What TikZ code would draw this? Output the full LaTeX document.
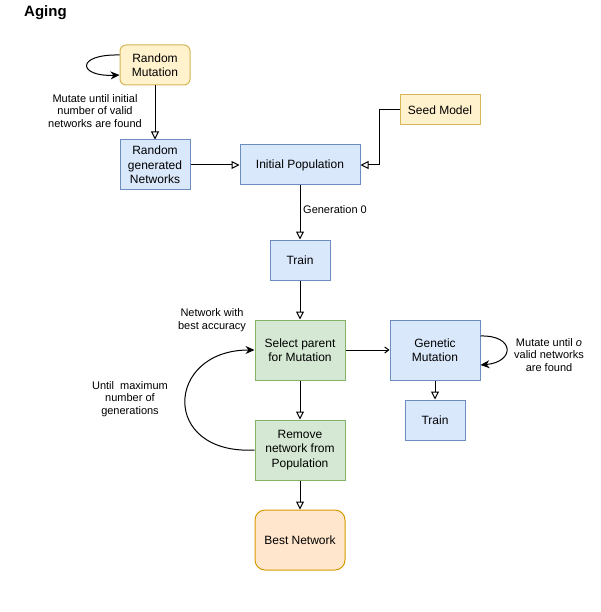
\documentclass[tikz,border=0pt]{standalone}
\usepackage{fontspec}
\setmainfont{Liberation Sans}
\usetikzlibrary{arrows.meta}
\definecolor{bluefill}{HTML}{DAE8FC}
\definecolor{bluedraw}{HTML}{6C8EBF}
\definecolor{yellowfill}{HTML}{FFF2CC}
\definecolor{yellowdraw}{HTML}{D6B656}
\definecolor{greenfill}{HTML}{D5E8D4}
\definecolor{greendraw}{HTML}{82B366}
\definecolor{orangefill}{HTML}{FFE6CC}
\definecolor{orangedraw}{HTML}{D79B00}
\begin{document}
\begin{tikzpicture}[x=1pt,y=-1pt,
  box/.style={draw, line width=1pt, inner sep=0pt, align=center, font=\fontsize{12}{14.5}\selectfont},
  bluebox/.style={box, fill=bluefill, draw=bluedraw},
  yellowbox/.style={box, fill=yellowfill, draw=yellowdraw},
  greenbox/.style={box, fill=greenfill, draw=greendraw},
  orangebox/.style={box, fill=orangefill, draw=orangedraw},
  lbl/.style={align=center, inner sep=0pt, font=\fontsize{11}{12.7}\selectfont},
  conn/.style={line width=1pt, -{Triangle[open,length=8pt,width=8pt]}},
  loop/.style={line width=1pt, -{Stealth[length=9pt,width=8pt]}},
  small/.style={line width=1pt, -{Straight Barb[length=4pt,width=6pt]}}
]
\useasboundingbox[fill=white] (0,0) rectangle (601,612);
\node[anchor=west, inner sep=0pt, font=\fontsize{15}{18}\selectfont\bfseries] (title) at (24,13) {Aging};

\node[yellowbox, rounded corners=6pt, minimum width=70pt, minimum height=40pt] (rm) at (155,65) {Random\\Mutation};
\node[bluebox, minimum width=70pt, minimum height=50pt] (rg) at (155,165) {Random\\generated\\Networks};
\node[bluebox, minimum width=120pt, minimum height=40pt] (ip) at (300,165) {Initial Population};
\node[yellowbox, minimum width=80pt, minimum height=30pt] (seed) at (440,110) {Seed Model};
\node[bluebox, minimum width=60pt, minimum height=40pt] (tr1) at (300,260) {Train};
\node[greenbox, minimum width=90pt, minimum height=60pt] (sel) at (300,350) {Select parent\\for Mutation};
\node[greenbox, minimum width=90pt, minimum height=60pt] (rem) at (300,450) {Remove\\network from\\Population};
\node[orangebox, rounded corners=10pt, minimum width=90pt, minimum height=60pt] (best) at (300,540) {Best Network};
\node[bluebox, minimum width=90pt, minimum height=60pt] (gm) at (435,350) {Genetic\\Mutation};
\node[bluebox, minimum width=60pt, minimum height=40pt] (tr2) at (435,420) {Train};

\node[lbl] (l1) at (95,111) {Mutate until initial\\number of valid\\networks are found};
\node[lbl, anchor=west] (l2) at (303,210) {Generation 0};
\node[lbl] (l3) at (212,320) {Network with\\best accuracy};
\node[lbl] (l4) at (130,399) {Until\ \ maximum\\number of\\generations};
\node[lbl] (l5) at (549,355) {Mutate until \textit{o}\\valid networks\\are found};

\draw[conn] (rm) -- (rg);
\draw[conn] (rg) -- (ip);
\draw[conn] (seed.west) -- ++(-20,0) |- (ip.east);
\draw[conn] (ip) -- (tr1);
\draw[conn] (tr1) -- (sel);
\draw[conn] (sel) -- (rem);
\draw[conn] (rem) -- (best);
\draw[conn] (gm) -- (tr2);
\draw[small] (sel) -- (gm);

\draw[loop] ([yshift=10pt]rm.west) .. controls (75,54) and (78,77) .. ([yshift=-10pt]rm.west);
\draw[loop] ([yshift=14pt]gm.east) .. controls (515,335) and (515,362) .. ([yshift=-15pt]gm.east);
\draw[loop] (rem.west) .. controls (160,455) and (165,350) .. (sel.west);
\end{tikzpicture}
\end{document}
